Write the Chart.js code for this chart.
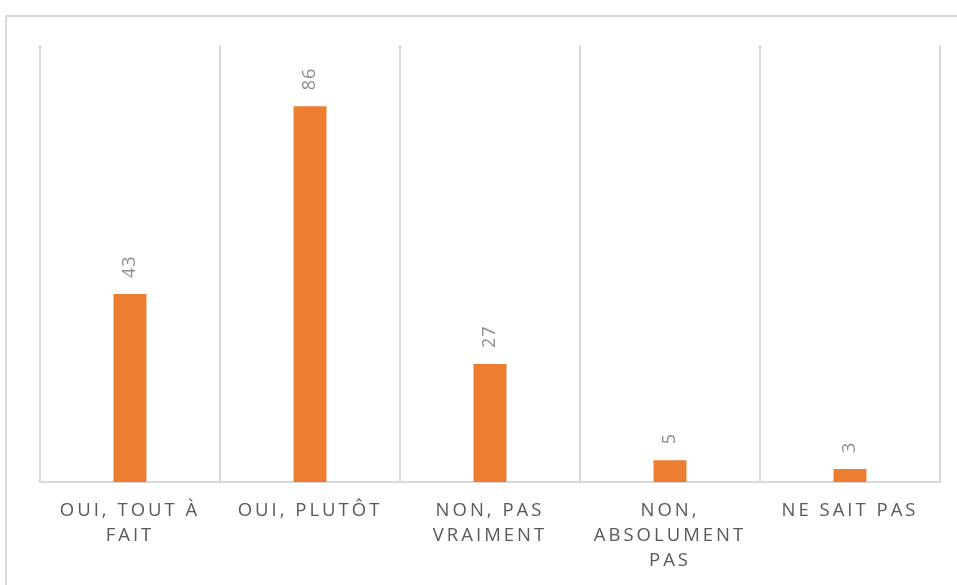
<!DOCTYPE html>
<html>
<head>
<meta charset="utf-8">
<script src="https://cdn.jsdelivr.net/npm/chart.js@4"></script>
<style>
    html, body { margin: 0; padding: 0; background: #fff; overflow: hidden; }
    #frame {
        position: absolute; left: 5px; top: 15px;
        width: 1000px; height: 700px;
        border: 2px solid #d9d9d9; box-sizing: border-box;
    }
    #wrap { position: absolute; left: 0; top: 0; width: 957px; height: 585px; }
</style>
</head>
<body>
<div id="frame"></div>
<div id="wrap"><canvas id="chart"></canvas></div>
<script>
const categories = [
    ["OUI, TOUT À", "FAIT"],
    ["OUI, PLUTÔT"],
    ["NON, PAS", "VRAIMENT"],
    ["NON,", "ABSOLUMENT", "PAS"],
    ["NE SAIT PAS"]
];
const values = [43, 86, 27, 5, 3];

// spacing between letters, like the original chart
const spacingPlugin = {
    id: "spacing",
    beforeDraw(chart) {
        chart.ctx.letterSpacing = "3px";
    }
};

// vertical value labels above each bar
const valueLabels = {
    id: "valueLabels",
    afterDatasetsDraw(chart) {
        const ctx = chart.ctx;
        const meta = chart.getDatasetMeta(0);
        ctx.save();
        ctx.letterSpacing = "1px";
        ctx.font = "18px 'Open Sans'";
        ctx.fillStyle = "#8c8c8c";
        ctx.textAlign = "left";
        ctx.textBaseline = "middle";
        meta.data.forEach((bar, i) => {
            ctx.save();
            ctx.translate(bar.x, bar.y - 16);
            ctx.rotate(-Math.PI / 2);
            ctx.fillText(String(values[i]), 0, 0);
            ctx.restore();
        });
        ctx.restore();
    }
};

new Chart(document.getElementById("chart").getContext("2d"), {
    type: "bar",
    data: {
        labels: categories,
        datasets: [{
            data: values,
            backgroundColor: "#ED7D31",
            barPercentage: 1,
            categoryPercentage: 0.183
        }]
    },
    options: {
        responsive: true,
        maintainAspectRatio: false,
        animation: false,
        layout: { padding: { left: 40, right: 17, top: 45, bottom: 0 } },
        plugins: { legend: { display: false }, tooltip: { enabled: false } },
        scales: {
            x: {
                grid: { color: "#d9d9d9", lineWidth: 2, drawTicks: false, offset: true },
                border: { color: "#d9d9d9", width: 2 },
                ticks: {
                    color: "#595959",
                    font: { family: "'Open Sans'", size: 18.5, lineHeight: 1.36 },
                    padding: 16,
                    maxRotation: 0,
                    autoSkip: false
                },
                afterFit(scale) { scale.height = 103; }
            },
            y: { display: false, min: 0, max: 100 }
        }
    },
    plugins: [spacingPlugin, valueLabels]
});
</script>
</body>
</html>
